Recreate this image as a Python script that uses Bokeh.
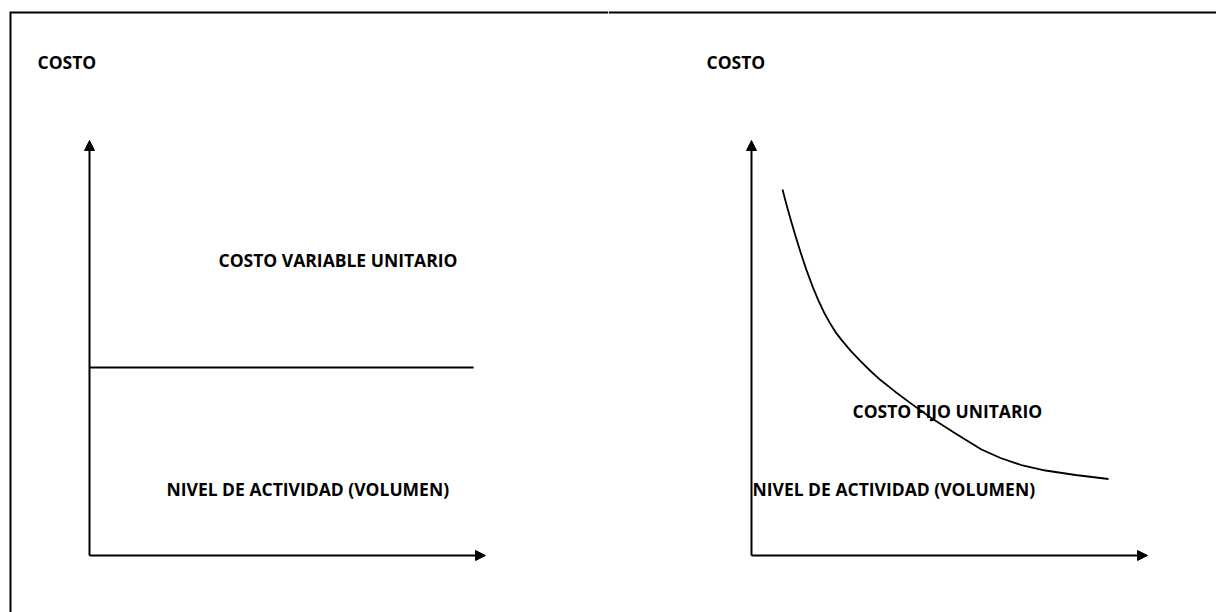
from bokeh.plotting import figure
from bokeh.layouts import row
from bokeh.models import Range1d, Arrow, NormalHead, Label, Span
from bokeh.embed import file_html
from bokeh.resources import INLINE

# ---- data (units of volume / cost) ----
# Left panel: constant unit variable cost
vol_var = [0.0, 9.70]
costo_var_unit = [4.53, 4.53]

# Right panel: unit fixed cost decreasing with volume
vol_fijo = [0.783, 0.884, 0.985, 1.111, 1.237, 1.389, 1.540, 1.692, 1.843, 1.995, 2.146, 2.273,
            2.500, 2.753, 3.005, 3.258, 3.636, 4.015, 4.520, 5.152, 5.808, 6.288, 6.843,
            7.424, 8.182, 9.015]
costo_fijo_unit = [8.819, 8.453, 8.106, 7.696, 7.311, 6.877, 6.487, 6.140, 5.836, 5.576, 5.352, 5.195,
                   4.935, 4.682, 4.446, 4.227, 3.942, 3.672, 3.325, 2.940, 2.554, 2.349, 2.169,
                   2.048, 1.940, 1.843]

# axis extents (arrow tips)
axis_x_len = 10.0
axis_y_len = 10.0

titles_left = ["COSTO", "COSTO VARIABLE UNITARIO", "NIVEL DE ACTIVIDAD (VOLUMEN)"]
titles_right = ["COSTO", "COSTO FIJO UNITARIO", "NIVEL DE ACTIVIDAD (VOLUMEN)"]

# ---- layout constants ----
W, H = 608, 612
PX_X, PX_Y = 39.6, 41.5
FONT = "Open Sans"
FS = "17.5px"


def make_fig(ox, oy):
    p = figure(width=W, height=H, output_backend="svg", toolbar_location=None,
               x_axis_type=None, y_axis_type=None, min_border=0,
               x_range=Range1d(-ox / PX_X, (W - ox) / PX_X),
               y_range=Range1d(-(H - oy) / PX_Y, oy / PX_Y))
    p.outline_line_color = None
    p.background_fill_color = "white"
    p.border_fill_color = "white"
    p.xgrid.visible = False
    p.ygrid.visible = False
    # axes with arrows
    for (x0, y0, x1, y1) in [(0, 0, axis_x_len, 0), (0, 0, 0, axis_y_len)]:
        p.add_layout(Arrow(x_start=x0, y_start=y0, x_end=x1, y_end=y1,
                           line_width=2, line_color="black",
                           end=NormalHead(size=10, fill_color="black", line_color="black", line_width=1)))
    return p


def add_text(p, txt, x, y):
    p.add_layout(Label(x=x, y=y, text=txt, text_font=FONT, text_font_style="bold",
                       text_font_size=FS, text_color="#000000",
                       text_align="left", text_baseline="middle"))


# left panel: origin at in-figure pixel (89, 555)
p1 = make_fig(89, 555)
p1.line(vol_var, costo_var_unit, line_width=2, line_color="black")
add_text(p1, titles_left[0], -1.313, 11.88)
add_text(p1, titles_left[1], 3.258, 7.13)
add_text(p1, titles_left[2], 1.944, 1.61)
# page frame (top and left rules, meeting at the corner)
frame_top, frame_left = 13.084, -1.995
p1.line([frame_left, frame_left, W / PX_X], [-H / PX_Y, frame_top, frame_top],
        line_width=2, line_color="black", line_join="miter")

# right panel: origin at in-figure pixel (143, 555)
p2 = make_fig(143, 555)
p2.line(vol_fijo, costo_fijo_unit, line_width=1.8, line_color="black", line_join="round")
add_text(p2, titles_right[0], -1.136, 11.88)
add_text(p2, titles_right[1], 2.55, 3.47)
add_text(p2, titles_right[2], 0.025, 1.61)
p2.add_layout(Span(location=frame_top, dimension="width", line_color="black", line_width=2))

layout = row(p1, p2)
open("out.html", "w").write(file_html(layout, INLINE))
